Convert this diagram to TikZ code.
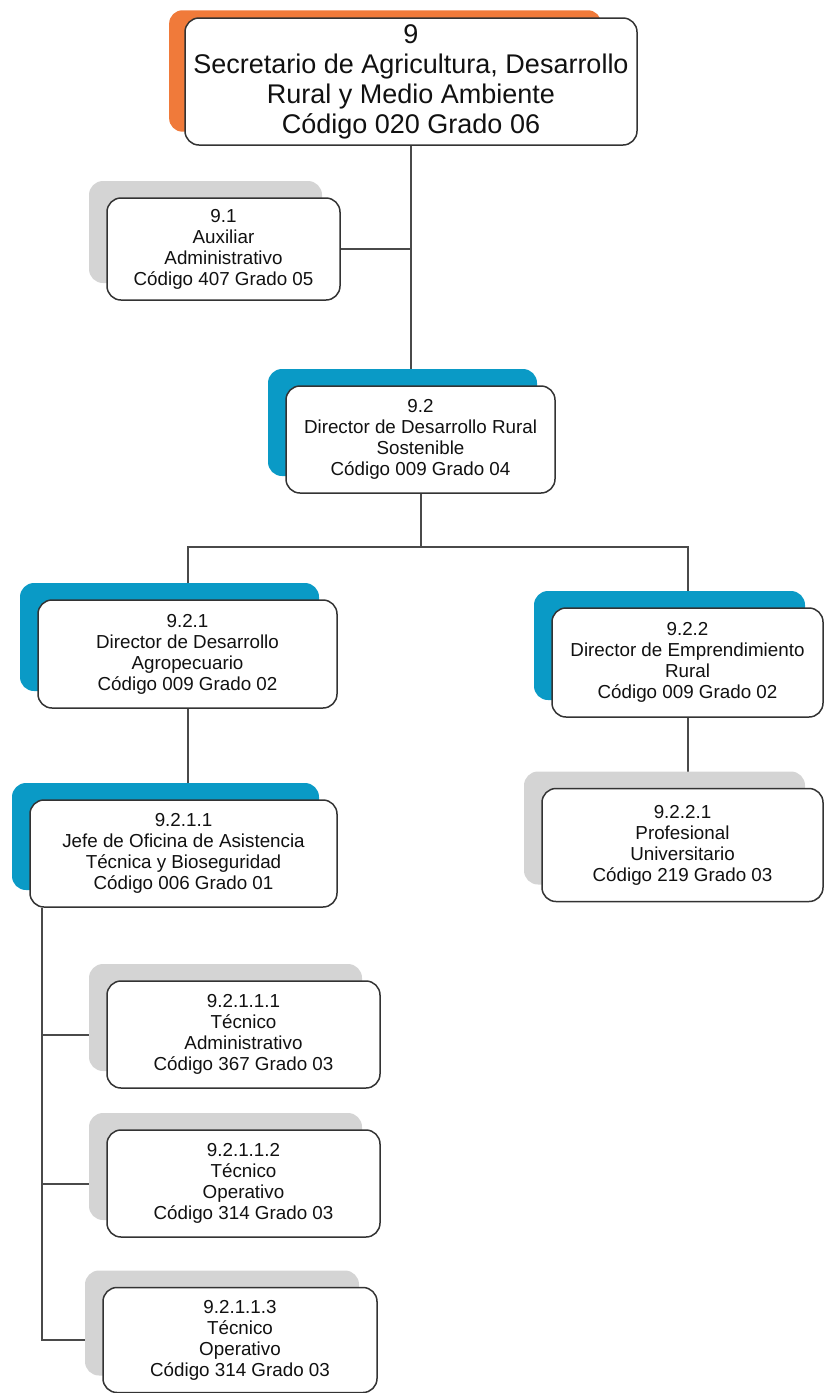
\documentclass[tikz,border=0pt]{standalone}
\usepackage{fontspec}
\setmainfont{Liberation Sans}
\usetikzlibrary{shadows,backgrounds}
\definecolor{orangeback}{HTML}{F07A3A}
\definecolor{blueback}{HTML}{0A9AC6}
\definecolor{grayback}{HTML}{D4D4D4}
\definecolor{rim}{HTML}{333333}
\definecolor{wire}{HTML}{4A4A4A}
\definecolor{ink}{HTML}{111111}
\tikzset{
  post/.style    ={draw=rim, fill=white, rounded corners=14pt, line width=1.5pt,
                   align=center, inner sep=0pt, text=ink,
                   font=\fontsize{18.8}{21}\selectfont},
  % coloured card behind the box, pushed up and to the left
  bluepost/.style={post, drop shadow={shadow xshift=-18pt, shadow yshift=17pt,
                   fill=blueback, opacity=1}},
  graypost/.style={post, drop shadow={shadow xshift=-18pt, shadow yshift=17pt,
                   fill=grayback, opacity=1}},
  headpost/.style={post, font=\fontsize{27}{30}\selectfont,
                   drop shadow={shadow xshift=-27pt, shadow yshift=11pt,
                   shadow scale=0.956, fill=orangeback, opacity=1}},
  link/.style    ={draw=wire, line width=2pt},
}

\begin{document}
\begin{tikzpicture}[x=1pt, y=-1pt]
    \useasboundingbox (0,0) rectangle (825,1393);
    % head
    \node[headpost, minimum width=452pt, minimum height=127pt] (sec) at (411,81.5)
      {9\\Secretario de Agricultura, Desarrollo\\Rural y Medio Ambiente\\Código 020 Grado 06};
    \node[graypost, minimum width=233pt, minimum height=102pt] (aux) at (223.5,249)
      {9.1\\Auxiliar\\Administrativo\\Código 407 Grado 05};
    % directors
    \node[bluepost, minimum width=269pt, minimum height=107pt] (dirrural) at (420.5,439.5)
      {9.2\\Director de Desarrollo Rural\\Sostenible\\Código 009 Grado 04};
    \node[bluepost, minimum width=299pt, minimum height=108pt] (diragro) at (187.5,654)
      {9.2.1\\Director de Desarrollo\\Agropecuario\\Código 009 Grado 02};
    \node[bluepost, minimum width=271pt, minimum height=109pt] (diremp) at (687.5,662.5)
      {9.2.2\\Director de Emprendimiento\\Rural\\Código 009 Grado 02};
    \node[bluepost, minimum width=307pt, minimum height=107pt] (jefe) at (183.5,853.5)
      {9.2.1.1\\Jefe de Oficina de Asistencia\\Técnica y Bioseguridad\\Código 006 Grado 01};
    \node[graypost, minimum width=281pt, minimum height=113pt] (prof) at (682.5,845)
      {9.2.2.1\\Profesional\\Universitario\\Código 219 Grado 03};
    % staff under the office
    \node[graypost, minimum width=273pt, minimum height=107pt] (tecadm) at (243.5,1034.5)
      {9.2.1.1.1\\Técnico\\Administrativo\\Código 367 Grado 03};
    \node[graypost, minimum width=273pt, minimum height=107pt] (tecop) at (243.5,1183.5)
      {9.2.1.1.2\\Técnico\\Operativo\\Código 314 Grado 03};
    \node[graypost, minimum width=274pt, minimum height=105pt] (tecopb) at (240,1340)
      {9.2.1.1.3\\Técnico\\Operativo\\Código 314 Grado 03};
    \coordinate (spine) at ([xshift=13pt]jefe.south west);
    % links
    \begin{pgfonlayer}{background}
      \draw[link] (sec.south) -- (sec.south |- dirrural.north);
      \draw[link] (aux.east) -- (aux.east -| sec.south);
      \draw[link] (dirrural.south) -- ++(0,53) -| (diragro.north);
      \draw[link] (dirrural.south) ++(0,53) -| (diremp.north);
      \draw[link] (diragro.south) -- (diragro.south |- jefe.north);
      \draw[link] (diremp.south) -- (diremp.south |- prof.north);
      \draw[link] (spine) |- (tecadm.west);
      \draw[link] (spine) |- (tecop.west);
      \draw[link] (spine) |- (tecopb.west);
    \end{pgfonlayer}
  \end{tikzpicture}
\end{document}
